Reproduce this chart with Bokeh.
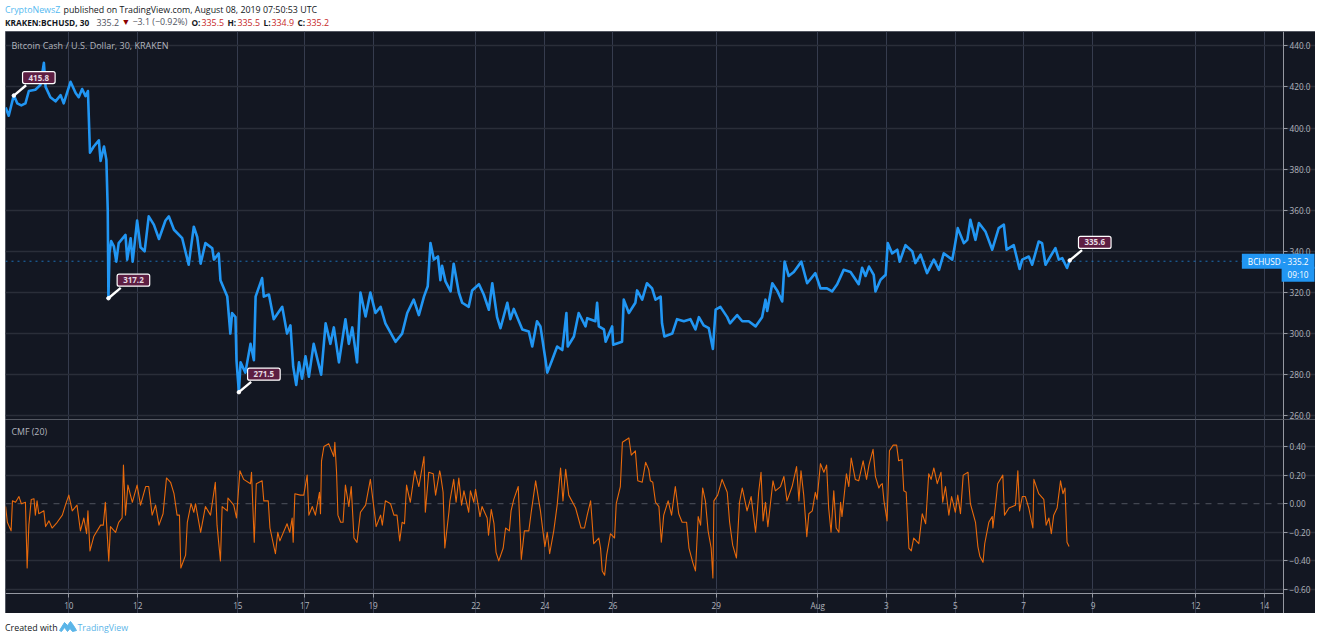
from bokeh.embed import file_html
from bokeh.resources import INLINE
from bokeh.layouts import column
from bokeh.models import ColumnDataSource, FixedTicker, Label, LinearAxis, Range1d
from bokeh.plotting import figure

price_points = [
(8.15,410),(8.24,406),(8.39,416),(8.49,412),(8.61,411),(8.73,412),(8.83,418),(9.02,418.6),(9.17,421),(9.27,431.7),(9.32,420),(9.46,415),(9.61,413),(9.76,416),(9.85,412),(10.05,422.5),(10.20,417),(10.29,415),(10.39,419),(10.49,415.5),(10.56,418),(10.62,388),(10.73,391),(10.88,394),(10.93,384),(11.03,391),(11.10,384.5),(11.14,360),(11.16,317.2),(11.19,339),(11.24,345),
(11.32,342.4),(11.39,335),(11.46,344),(11.66,348),(11.71,336),(11.81,346.4),(11.87,335),(12.00,355),(12.10,342),(12.22,340),(12.34,357),(12.49,353),(12.64,346),(12.83,355),(12.93,357),(13.08,350.5),(13.32,346.4),(13.51,333.5),(13.66,352),(13.76,347),(13.86,334),(14.00,344),(14.20,341.5),(14.25,336),(14.39,339),(14.44,326),(14.64,318),(14.73,300),(14.78,310),(14.88,308),(14.91,287),(14.98,271.5),(15.03,286),(15.17,281),(15.32,295),(15.42,287),(15.47,318),(15.66,327),(15.71,318),(15.86,319),(16.00,307),(16.25,313),(16.39,300),(16.49,304),(16.57,284),(16.66,275),(16.74,286),(16.83,278),(16.93,289),(17.03,279),(17.17,295),(17.39,280),(17.52,305),(17.66,295),(17.76,303),(17.91,286),(18.10,307),(18.20,295),(18.30,303),(18.44,286),(18.54,320),(18.69,308.3),(18.83,320),(18.98,310),(19.13,313),(19.27,305),(19.57,296),(19.76,300),(19.91,310),(20.10,316.5),(20.25,309),(20.40,318),(20.51,323),(20.59,344),(20.69,336),(20.81,337.5),(20.88,326),
(20.93,333),(21.03,325.4),(21.18,320.5),(21.27,334),(21.42,320),(21.52,315),(21.71,313),(21.81,321),(22.01,324),(22.15,319),(22.30,311.6),(22.40,324.5),(22.54,308),(22.64,302.6),(22.84,315),(22.93,307),(23.03,312),(23.28,302),(23.47,301),(23.57,293.7),(23.71,306),(23.81,303.5),(23.96,287),(24.01,281),(24.15,287),(24.30,293.7),(24.45,292),(24.57,310),(24.61,293.7),(24.79,298.6),(24.93,310),(25.13,303.5),(25.18,307.5),(25.42,306),(25.47,315),(25.52,303.5),(25.67,302),(25.72,296),(25.91,303.5),(25.94,294.6),(26.20,296),(26.25,316.5),(26.40,310),(26.59,315),(26.64,321),(26.79,316.5),(26.93,324.5),(27.08,322),(27.18,316.5),(27.33,318),(27.37,305),(27.44,298.6),(27.67,300),(27.81,307),(28.01,306),(28.20,307),(28.35,302),(28.45,308),(28.59,304),(28.74,302.6),(28.86,292.5),(28.94,311.6),(29.08,313),(29.28,308),(29.36,305),(29.57,309),(29.72,306),(29.91,306),(30.11,303.5),(30.30,308),(30.40,316.5),(30.45,311),(30.60,324.5),(30.74,321),(30.89,315.6),(30.96,335),(31.08,328),(31.23,330),(31.45,335),(31.62,324.5),(31.86,329.4),(32.01,322),(32.20,322),(32.35,320.5),(32.50,324),(32.69,331),(32.89,330),(33.13,324),(33.23,332),(33.33,328),(33.43,332.6),(33.57,328.6),(33.62,320.5),(33.77,326.2),
(33.92,328.6),(33.98,344),(34.11,339),(34.26,340.8),(34.33,335),(34.50,343),(34.70,340),(34.79,334.3),(34.94,338.4),(35.13,329.4),(35.33,336),(35.48,331),(35.62,339),(35.87,336),(35.94,342.4),(36.03,351.3),(36.21,344),(36.31,345.6),(36.40,355.4),(36.55,345.6),(36.65,353.8),(36.84,349.7),(37.04,340.8),(37.23,351.3),(37.38,353),(37.46,340.8),(37.67,343),(37.84,331.4),(37.92,336),(38.11,337.5),(38.21,333.5),(38.40,344.8),(38.50,344),(38.60,333.5),(38.89,341.6),(38.99,336),(39.09,336.7),(39.23,331.9),(39.31,335.6),
]

cmf_points = [
(8.15,-.02),(8.20,-.13),(8.31,-.19),(8.35,.02),(8.44,.01),(8.54,.05),(8.61,0),(8.73,.01),(8.78,-.45),(8.83,-.15),(8.90,.03),(8.98,.035),(9.02,-.08),(9.07,.02),(9.12,-.07),(9.27,-.05),(9.32,-.16),(9.42,-.12),(9.51,-.17),(9.66,-.13),(9.81,-.08),(9.90,-.01),(10.00,.06),(10.10,-.05),(10.24,-.01),(10.34,-.19),(10.44,-.10),(10.52,-.21),(10.56,-.05),(10.62,-.33),(10.73,-.23),(10.93,-.15),(11.01,-.15),(11.07,.01),(11.17,-.40),(11.22,-.16),(11.37,-.20),(11.46,-.13),(11.56,-.10),(11.60,.27),(11.66,-.08),(11.73,.13),(11.86,.01),(12.00,.13),(12.10,-.01),(12.25,.12),(12.34,.12),(12.44,-.08),(12.54,-.01),(12.64,-.15),(12.76,-.07),(12.86,.18),(12.98,.15),(13.08,.07),(13.17,-.08),(13.24,-.08),(13.28,-.45),(13.42,-.36),(13.47,-.13),(13.58,0),(13.66,-.06),(13.71,0),(13.86,-.20),(14.00,-.02),(14.15,-.08),(14.29,.15),(14.34,-.15),(14.44,-.40),(14.49,-.02),(14.64,-.05),(14.66,.04),(14.83,-.01),(14.91,-.10),(15.01,.23),(15.12,.17),(15.32,.14),(15.35,.22),(15.43,-.27),(15.49,.14),(15.66,.16),(15.71,.02),(15.84,.02),(15.89,-.17),(16.05,-.35),(16.12,-.20),(16.18,-.26),(16.39,-.14),(16.47,-.20),(16.54,-.10),(16.57,-.27),(16.62,.07),(16.78,.06),(16.88,.06),(16.98,.20),(17.03,-.08),(17.13,-.02),(17.22,-.08),(17.34,.08),(17.37,-.07),(17.40,.30),(17.47,.40),(17.61,.42),(17.76,.33),(17.79,.43),(17.84,.22),(17.88,-.08),(17.96,-.13),(18.03,-.13),(18.10,.13),(18.20,-.02),(18.27,.12),(18.35,-.24),(18.44,-.27),(18.54,-.06),(18.69,-.01),(18.83,.17),(18.95,-.06),(19.00,-.16),(19.13,-.08),(19.18,-.15),(19.27,.02),(19.42,0),(19.52,-.08),(19.61,-.08),(19.69,-.26),(19.76,-.13),(19.83,-.14),(19.89,.13),(20.00,.01),(20.13,.23),(20.25,.12),(20.40,.33),(20.44,-.06),(20.54,.22),(20.67,.21),(20.74,.06),(20.86,.23),
(20.88,.21),(20.96,.08),(21.01,-.31),(21.13,-.06),(21.16,.02),(21.27,.17),(21.34,.01),(21.42,.18),(21.50,-.01),(21.57,.09),(21.71,-.06),(21.76,.09),(21.86,.01),(21.91,.10),(22.04,-.09),(22.10,-.02),(22.25,-.10),(22.29,-.22),(22.37,-.04),(22.45,-.14),(22.51,-.34),(22.59,-.40),(22.72,-.31),(22.79,-.17),(22.90,-.19),(22.95,-.05),(23.03,.03),(23.16,.12),(23.25,-.39),(23.34,-.19),(23.47,-.19),(23.54,-.06),(23.67,.16),(23.81,-.05),(23.94,-.30),(24.01,-.20),(24.08,-.35),(24.20,-.19),(24.30,-.01),(24.40,.25),(24.47,.02),(24.55,.24),(24.64,.06),(24.84,-.03),(25.00,-.17),(25.10,-.17),(25.18,-.08),(25.28,.02),(25.37,-.28),(25.52,-.24),(25.57,-.31),(25.62,-.47),(25.69,-.50),(25.75,-.36),(25.86,-.21),(25.98,-.24),(26.03,0),(26.15,.12),(26.21,.43),(26.40,.46),(26.47,.34),(26.59,.37),(26.66,.16),(26.79,.15),(26.89,.29),(26.98,.24),(27.03,.16),(27.10,.15),(27.18,.01),(27.28,-.02),(27.35,-.27),(27.42,-.08),(27.55,.02),(27.65,-.08),(27.76,.12),(27.86,-.07),(27.96,-.13),(28.09,-.13),(28.16,-.31),(28.27,-.41),(28.35,-.47),(28.43,-.09),(28.50,-.15),(28.56,.11),(28.64,.02),(28.72,-.19),(28.81,-.31),(28.86,-.52),(28.89,.02),(29.00,.06),(29.13,.17),(29.28,.08),(29.35,-.13),(29.44,-.29),(29.55,-.38),(29.64,.01),(29.72,.11),(29.86,-.05),(29.98,.05),(30.11,-.20),(30.16,-.06),(30.20,.08),(30.27,.22),(30.33,-.12),(30.40,.01),(30.47,-.16),(30.62,.16),(30.69,.09),(30.84,.12),(30.94,.19),(31.03,.02),(31.18,.12),(31.31,.26),(31.38,.02),(31.44,.23),(31.52,.06),(31.61,-.23),(31.67,-.07),(31.77,-.05),(31.86,.08),(31.91,.03),(32.01,.28),(32.11,.22),(32.19,.27),(32.25,-.03),(32.32,-.20),(32.40,.09),(32.47,-.17),(32.55,-.20),(32.60,.01),(32.64,-.09),(32.77,.21),(32.84,.12),(32.91,.32),(33.03,.17),(33.13,.16),(33.26,.30),(33.36,.17),(33.43,.27),(33.55,.38),(33.62,.19),(33.72,.11),
(33.77,.13),(33.82,.14),(33.87,.02),(33.96,-.12),(34.03,.37),(34.14,.41),(34.24,.41),(34.30,.30),(34.40,.31),(34.45,.09),(34.52,.08),(34.60,-.31),(34.67,-.33),(34.74,-.24),(34.89,-.28),(34.99,-.07),(35.09,-.14),(35.18,.21),(35.25,.17),(35.33,.25),(35.43,.14),(35.54,.22),(35.59,.01),(35.67,.12),(35.77,-.08),(35.85,.05),(35.96,-.06),(36.03,.06),(36.11,-.07),(36.19,.20),(36.33,.22),(36.40,0),(36.55,-.13),(36.62,-.30),(36.68,-.37),(36.77,-.41),(36.82,-.28),(36.94,-.13),(37.04,-.09),(37.06,-.17),(37.14,0),(37.20,.14),(37.35,.20),(37.40,-.08),(37.53,-.03),(37.72,-.01),(37.79,.23),(37.84,-.05),(37.92,.05),(38.01,.05),(38.11,-.03),(38.23,-.17),(38.26,.17),(38.40,.07),(38.55,.03),(38.62,-.15),(38.70,-.10),(38.77,-.21),(38.84,-.08),(38.94,-.03),(39.04,.16),(39.11,.07),(39.17,.11),(39.23,-.27),(39.29,-.30),
]

price_days = [p[0] for p in price_points]
price_values = [p[1] for p in price_points]
cmf_days = [p[0] for p in cmf_points]
cmf_values = [p[1] for p in cmf_points]

date_ticks = [10, 12.02, 14.95, 16.91, 18.91, 21.92, 23.94, 25.93, 28.96, 31.93, 33.94, 35.96, 37.96, 39.99, 43.0, 45.01]
date_labels = ["10", "12", "15", "17", "19", "22", "24", "26", "29", "Aug", "3", "5", "7", "9", "12", "14"]
price_ticks = [260, 280, 300, 320, 340, 360, 380, 400, 420, 440]
price_labels = ["260.0", "280.0", "300.0", "320.0", "340.0", "360.0", "380.0", "400.0", "420.0", "440.0"]
cmf_ticks = [-0.6, -0.4, -0.2, 0.0, 0.2, 0.4]
cmf_labels = ["\u22120.60", "\u22120.40", "\u22120.20", "0.00", "0.20", "0.40"]
callout_days = [8.39, 11.16, 14.98, 39.31]
callout_prices = [415.8, 317.2, 271.5, 335.6]
callout_texts = ["415.8", "317.2", "271.5", "335.6"]
last_price = 335.2

BG, GRID, AXC, TXT = "#131722", "#2a2e39", "#9598a1", "#b2b5be"
BLUE, ORANGE, FONT = "#2196f3", "#e8690b", "Open Sans"
X0, XA, X1 = 8.146, 45.57, 46.506     # left edge, price-axis position, right edge
CMF_TOP, CMF_BOTTOM, CMF_FLOOR = 0.589, -0.628, -0.768


def blank(h, w=1320):
    f = figure(width=w, height=h, x_range=Range1d(0, w), y_range=Range1d(h, 0), output_backend="svg",
               toolbar_location=None, x_axis_location=None, y_axis_location=None, min_border=0)
    f.grid.visible = False
    f.outline_line_color = None
    f.background_fill_color = "#ffffff"
    f.border_fill_color = "#ffffff"
    return f


def txt(f, x, y, s, color="#131722", bold=False, size="8.85px"):
    f.add_layout(Label(x=x, y=y, text=s, text_color=color, text_font=FONT,
                       text_font_size="8.3px" if bold else size,
                       text_baseline="middle", text_font_style="bold" if bold else "normal"))


head = blank(31)
txt(head, 4.5, 9, "CryptoNewsZ", "#53b9f0")
txt(head, 63, 9, "published on TradingView.com, August 08, 2019 07:50:53 UTC")
txt(head, 4.5, 21.7, "KRAKEN:BCHUSD, 30", bold=True)
txt(head, 96, 21.7, "335.2", "#50535e")
txt(head, 121, 21.7, "\u25bc", "#8b0000")
txt(head, 132, 21.7, "\u22123.1 (\u22120.92%)", "#50535e")
for x, s in [(191, "O:"), (227, "H:"), (263, "L:"), (297, "C:")]:
    txt(head, x, 21.7, s, bold=True)
for x, s in [(201, "335.5"), (237, "335.5"), (271, "334.9"), (306, "335.2")]:
    txt(head, x, 21.7, s, "#c62828")

p = figure(width=1310, height=388, x_range=Range1d(X0, X1), y_range=Range1d(258.2, 446.96), output_backend="svg",
           toolbar_location=None, x_axis_location=None, y_axis_location=None, min_border=0, margin=(0, 5, 0, 5))
c = figure(width=1310, height=194, x_range=Range1d(X0, X1), y_range=Range1d(CMF_FLOOR, CMF_TOP), output_backend="svg",
           toolbar_location=None, x_axis_location=None, y_axis_location=None, min_border=0, margin=(0, 5, 0, 5))

p_axis = LinearAxis(fixed_location=XA, ticker=FixedTicker(ticks=price_ticks),
                    major_label_overrides=dict(zip(price_ticks, price_labels)))
c_axis = LinearAxis(fixed_location=XA, ticker=FixedTicker(ticks=cmf_ticks),
                    major_label_overrides=dict(zip(cmf_ticks, cmf_labels)))
x_axis = LinearAxis(fixed_location=CMF_BOTTOM, ticker=FixedTicker(ticks=date_ticks),
                    major_label_overrides=dict(zip(date_ticks, date_labels)), bounds=(X0, XA))

for ax, side in ((p_axis, p), (c_axis, c)):
    side.add_layout(ax, "right")
c.add_layout(x_axis, "below")

for ax in (p_axis, c_axis, x_axis):
    ax.axis_line_color = AXC
    ax.major_tick_line_color = AXC
    ax.major_tick_out = 4
    ax.major_tick_in = 0
    ax.minor_tick_line_color = None
    ax.major_label_standoff = 2
    ax.major_label_text_color = TXT
    ax.major_label_text_font = FONT
    ax.major_label_text_font_size = "8.2px"
x_axis.major_label_standoff = 3

for f in (p, c):
    f.background_fill_color = BG
    f.border_fill_color = BG
    f.outline_line_color = None
    f.styles = {"outline": "1px solid " + AXC, "outline-offset": "-1px"}
    f.xgrid.ticker = FixedTicker(ticks=date_ticks)
    f.xgrid.grid_line_color = "#363c4e"
    f.ygrid.grid_line_color = GRID
    f.ygrid.grid_line_width = 1.5
    f.ygrid.bounds = (X0, XA)

p.ygrid.ticker = FixedTicker(ticks=price_ticks)
c.ygrid.ticker = FixedTicker(ticks=[t for t in cmf_ticks if t != 0.0])
c.xgrid.bounds = (CMF_BOTTOM, CMF_TOP)

p.line([X0, XA], [last_price, last_price], line_color=BLUE, line_alpha=0.7, line_dash="dotted", line_width=1)
c.line([X0, XA], [0, 0], line_color="#50535e", line_dash="dashed", line_width=1)

p.line(price_days, price_values, line_color=BLUE, line_width=2.6, line_join="round")
c.line(cmf_days, cmf_values, line_color=ORANGE, line_width=1.1, line_join="round")

tails = ColumnDataSource(dict(
    x0=callout_days, y0=callout_prices,
    x1=[d + 0.36 for d in callout_days], y1=[v + 5 for v in callout_prices]))
p.segment("x0", "y0", "x1", "y1", source=tails, line_color="#ffffff", line_width=2.4)
p.scatter(callout_days, callout_prices, size=3.5, color="#ffffff")
for d, v, s in zip(callout_days, callout_prices, callout_texts):
    p.add_layout(Label(x=d, y=v, x_offset=25, y_offset=18, text=s, text_align="center", text_baseline="middle",
                       text_color="#e6dbe2", text_font=FONT, text_font_size="8px", text_font_style="bold",
                       background_fill_color="#5d1e42", border_line_color="#ffffff", border_line_width=1.2,
                       padding=(6, 3), border_radius=2))

p.add_layout(Label(x=X0, y=440.1, x_offset=6, text="Bitcoin Cash / U.S. Dollar, 30, KRAKEN", text_color=TXT,
                   text_font=FONT, text_font_size="9px", text_baseline="middle"))
c.add_layout(Label(x=X0, y=0.505, x_offset=6, text="CMF (20)", text_color=TXT,
                   text_font=FONT, text_font_size="8.8px", text_baseline="middle"))
p.add_layout(Label(x=X1, y=last_price, x_offset=-1, text="BCHUSD - 335.2", text_align="right", text_baseline="middle",
                   text_color="#ffffff", text_font=FONT, text_font_size="8.2px",
                   background_fill_color=BLUE, padding=(6, 2)))
p.add_layout(Label(x=X1, y=last_price, x_offset=-1, y_offset=-13, text="09:10", text_align="right", text_baseline="middle",
                   text_color="#ffffff", text_font=FONT, text_font_size="8.2px",
                   background_fill_color=BLUE, padding=(6, 2)))

foot = blank(27)
txt(foot, 4.5, 14, "Created with")
txt(foot, 77, 14, "TradingView", "#5bb5e8")
foot.patch([59, 64, 67, 70, 73, 76, 72, 69.5, 67, 64, 61], [17, 9, 12, 8, 12, 17, 18, 15, 18, 14, 18], color="#5bb5e8")

layout = column(head, p, c, foot, spacing=0)
open("out.html", "w").write(file_html(layout, INLINE))
